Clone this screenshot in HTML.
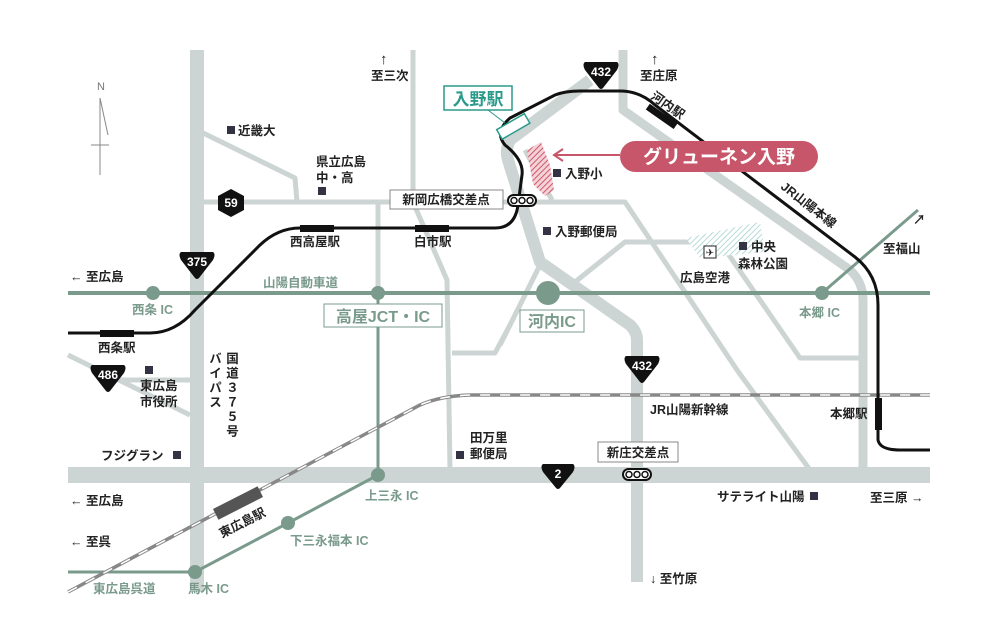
<!DOCTYPE html>
<html><head><meta charset="utf-8"><style>
html,body{margin:0;padding:0;background:#fff;}
svg{display:block;font-family:"Liberation Sans","Noto Sans CJK JP",sans-serif;}
.t{font-size:12.5px;fill:#222;font-weight:600;}
.g{font-size:12.5px;fill:#7a9a8c;font-weight:600;}
</style></head><body>
<svg width="1000" height="633" viewBox="0 0 1000 633" xmlns="http://www.w3.org/2000/svg">
<defs>
<pattern id="hp" width="4" height="4" patternUnits="userSpaceOnUse" patternTransform="rotate(45)">
<rect width="4" height="4" fill="#f3d3d8"/><line x1="0" y1="0" x2="0" y2="4" stroke="#d0566b" stroke-width="2"/></pattern>
<pattern id="ha" width="4" height="4" patternUnits="userSpaceOnUse" patternTransform="rotate(45)">
<rect width="4" height="4" fill="#fff"/><line x1="0" y1="0" x2="0" y2="4" stroke="#9fcfc9" stroke-width="1.5"/></pattern>
</defs>
<g fill="none" stroke="#ccd5d3" stroke-linejoin="round">
<g stroke-width="5">
<path d="M197,130 L295,178 L297,202"/>
<path d="M197,202 L520,202"/>
<path d="M378,202 L378,293"/>
<path d="M413,50 L413,202 L447,280 L450,470"/>
<path d="M452,353 L495,353 L510,325"/>
<path d="M525,202 L625,202 L737,370 L810,470"/>
<path d="M575,282 L625,242 L720,242 L800,358 L860,358"/>
<path d="M540,265 L500,345"/>
<path d="M68,355 L190,415"/>
<path d="M118,380 L190,380"/>
<path d="M525,150 L552,200"/>
</g>
<path d="M623,50 L623,110 L850,270 Q863,282 863,300 L863,470" stroke-width="9"/>
<path d="M590,80 L510,140 Q505,150 508,160 L540,262 L630,325 Q637,332 637,340 L637,582" stroke-width="12"/>
<path d="M197,50 L197,592" stroke-width="14"/>
<path d="M68,475 L930,475" stroke-width="16"/>
</g>
<path d="M527,150 L541,142 L550,165 L554,190 L545,196 L533,184 Z" fill="url(#hp)"/>
<path d="M686,238 L760,222 L765,252 L700,258 Z" fill="url(#ha)"/>
<g stroke="#7a9a8c" fill="none">
<path d="M68,293 L930,293" stroke-width="4"/>
<path d="M822,293 L918,210" stroke-width="3"/>
<path d="M378,293 L378,475 L288,523 L195,572 L68,572" stroke-width="3"/>
</g>
<g fill="#7a9a8c">
<circle cx="153" cy="293" r="7"/><circle cx="378" cy="293" r="7"/><circle cx="548" cy="293" r="12"/><circle cx="822" cy="293" r="7"/>
<circle cx="378" cy="475" r="7"/><circle cx="288" cy="523" r="7"/><circle cx="195" cy="572" r="7"/>
</g>
<path d="M68,592 L420,405 Q440,396 470,395 L930,395" fill="none" stroke="#888" stroke-width="3.5"/>
<path d="M68,592 L420,405 Q440,396 470,395 L930,395" fill="none" stroke="#fff" stroke-width="1.5" stroke-dasharray="10,10"/>
<rect x="213" y="497" width="50" height="12" fill="#555" transform="rotate(-27 238 503)"/>
<path d="M68,333 L150,333 Q175,333 195,310 L260,245 Q278,228 300,228 L495,228 Q515,228 518,205 L522,175 Q524,160 505,145 Q494,132 510,118 L555,95 Q565,91 580,91 L620,91 Q640,91 655,105 L855,257 Q878,275 878,305 L878,440 Q880,450 900,450 L930,450" fill="none" stroke="#111" stroke-width="3"/>
<g fill="#111">
<rect x="100" y="330" width="34" height="7"/><rect x="300" y="225" width="34" height="7"/><rect x="415" y="225" width="34" height="7"/>
<rect x="645" y="113" width="34" height="7" transform="rotate(35 662 116)"/>
<rect x="875" y="398" width="7" height="32"/>
</g>
<rect x="497" y="121" width="32" height="11" fill="#fff" stroke="#2a9a8a" stroke-width="1.5" transform="rotate(-30 513 126)"/>
<line x1="488" y1="110" x2="505" y2="123" stroke="#2a9a8a" stroke-width="1"/>
<rect x="444" y="86" width="68" height="24" fill="#fff" stroke="#2a9a8a" stroke-width="1.5"/>
<text x="478" y="105" font-size="17" font-weight="600" fill="#2a9a8a" text-anchor="middle">入野駅</text>
<g fill="#fff" stroke="#111" stroke-width="2">
<rect x="508" y="195" width="28" height="11" rx="5.5"/><rect x="623" y="469" width="28" height="11" rx="5.5"/></g>
<g fill="#fff" stroke="#111" stroke-width="1.5"><circle cx="514" cy="200.5" r="3"/><circle cx="522" cy="200.5" r="3"/><circle cx="530" cy="200.5" r="3"/><circle cx="629" cy="474.5" r="3"/><circle cx="637" cy="474.5" r="3"/><circle cx="645" cy="474.5" r="3"/></g>
<g fill="#111">
<path d="M585,62 L617,62 Q620,64 617,70 L603,88 Q601,90 599,88 L585,70 Q582,64 585,62 Z"/>
<path d="M626,356 L658,356 Q661,358 658,364 L644,382 Q642,384 640,382 L626,364 Q623,358 626,356 Z"/>
<path d="M181,252 L213,252 Q216,254 213,260 L199,278 Q197,280 195,278 L181,260 Q178,254 181,252 Z"/>
<path d="M92,365 L124,365 Q127,367 124,373 L110,391 Q108,393 106,391 L92,373 Q89,367 92,365 Z"/>
<path d="M543,464 L573,464 Q576,466 573,472 L560,488 Q558,490 556,488 L543,472 Q540,466 543,464 Z"/>
<path d="M231,189 L244,196 L244,210 L231,217 L218,210 L218,196 Z"/>
</g>
<g fill="#fff" font-size="12" font-weight="bold" text-anchor="middle">
<text x="601" y="76">432</text><text x="642" y="370">432</text><text x="197" y="266">375</text><text x="108" y="379">486</text><text x="558" y="478">2</text><text x="231" y="207">59</text>
</g>
<rect x="620" y="141" width="198" height="31" rx="15.5" fill="#c8566a"/>
<text x="719" y="163" font-size="19" font-weight="600" fill="#fff" text-anchor="middle">グリューネン入野</text>
<path d="M620,155 L555,155" stroke="#c8566a" stroke-width="2"/>
<path d="M563,149 L554,155 L563,161" fill="none" stroke="#c8566a" stroke-width="2"/>
<text x="101" y="90" font-size="11" fill="#777" text-anchor="middle">N</text>
<path d="M100,98 L100,175 M100,98 L108,135 M91,145 L109,145" stroke="#888" stroke-width="1" fill="none"/>
<g fill="#fff" stroke="#888" stroke-width="1">
<rect x="390" y="190" width="113" height="19"/><rect x="598" y="442" width="80" height="20"/>
<rect x="324" y="304" width="118" height="23" stroke="#7a9a8c"/><rect x="520" y="310" width="64" height="22" stroke="#7a9a8c"/>
</g>
<text x="446" y="204" class="t" text-anchor="middle">新岡広橋交差点</text>
<text x="638" y="457" class="t" text-anchor="middle">新庄交差点</text>
<text x="383" y="322" font-size="16" font-weight="600" fill="#7a9a8c" text-anchor="middle">高屋JCT・IC</text>
<text x="552" y="327" font-size="16" font-weight="600" fill="#7a9a8c" text-anchor="middle">河内IC</text>
<g fill="#334">
<rect x="227" y="126" width="8" height="8"/><rect x="318" y="187" width="8" height="8"/><rect x="553" y="169" width="8" height="8"/><rect x="543" y="227" width="8" height="8"/>
<rect x="739" y="242" width="8" height="8"/><rect x="145" y="366" width="8" height="8"/><rect x="173" y="451" width="8" height="8"/><rect x="456" y="451" width="8" height="8"/><rect x="810" y="492" width="8" height="8"/>
</g>
<rect x="704" y="246" width="12" height="12" fill="#fff" stroke="#222" stroke-width="1"/>
<text x="710" y="256" font-size="10" text-anchor="middle" fill="#222">✈</text>
<g class="t">
<text x="238" y="135">近畿大</text>
<text x="316" y="166">県立広島</text><text x="316" y="182">中・高</text>
<text x="565" y="178">入野小</text>
<text x="555" y="236">入野郵便局</text>
<text x="751" y="251">中央</text><text x="738" y="268">森林公園</text>
<text x="680" y="282">広島空港</text>
<text x="290" y="246">西高屋駅</text><text x="414" y="246">白市駅</text>
<text x="98" y="352">西条駅</text>
<text x="140" y="390">東広島</text><text x="140" y="406">市役所</text>
<text x="101" y="460">フジグラン</text>
<text x="470" y="442">田万里</text><text x="470" y="458">郵便局</text>
<text x="650" y="414">JR山陽新幹線</text>
<text x="830" y="418">本郷駅</text>
<text x="717" y="501">サテライト山陽</text>
<text x="870" y="502">至三原 →</text>
<text x="650" y="583">↓ 至竹原</text>
<text x="70" y="281">← 至広島</text>
<text x="70" y="505">← 至広島</text>
<text x="70" y="546">← 至呉</text>
<text x="883" y="253">至福山</text>
<text x="371" y="80">至三次</text><text x="380" y="64" font-size="15">↑</text>
<text x="640" y="80">至庄原</text><text x="651" y="64" font-size="15">↑</text>
<text x="913" y="224">↗</text>
</g>
<g class="t" style="writing-mode:vertical-rl;text-orientation:upright" letter-spacing="2">
<text x="231" y="352">国道３７５号</text>
<text x="214" y="352">バイパス</text>
</g>
<text x="650" y="98" class="t" transform="rotate(35 650 98)">河内駅</text>
<text x="780" y="188" class="t" transform="rotate(38 780 188)">JR山陽本線</text>
<text x="222" y="538" class="t" font-size="13" transform="rotate(-27 222 538)">東広島駅</text>
<g class="g">
<text x="263" y="287">山陽自動車道</text>
<text x="132" y="314">西条 IC</text>
<text x="799" y="317">本郷 IC</text>
<text x="365" y="500">上三永 IC</text>
<text x="290" y="545">下三永福本 IC</text>
<text x="93" y="593">東広島呉道</text>
<text x="188" y="593">馬木 IC</text>
</g>
</svg>
</body></html>
